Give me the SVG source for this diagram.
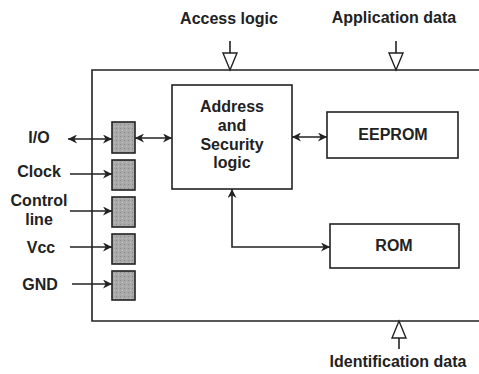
<svg xmlns="http://www.w3.org/2000/svg" width="479" height="374" viewBox="0 0 479 374">
<defs>
<marker id="ah" viewBox="0 0 10 10" refX="10" refY="5" markerWidth="10" markerHeight="9" markerUnits="userSpaceOnUse" orient="auto-start-reverse"><path d="M0,0 L10,5 L0,10 L3,5 Z" fill="#222"/></marker>
<pattern id="tex" width="4" height="4" patternUnits="userSpaceOnUse"><rect width="4" height="4" fill="#a9a9a9"/><rect x="0" y="0" width="1" height="1" fill="#8a8a8a"/><rect x="2" y="2" width="1" height="1" fill="#c4c4c4"/></pattern>
</defs>
<style>
text{font-family:"Liberation Sans",Arial,sans-serif;font-weight:bold;font-size:16px;fill:#222;text-anchor:middle}
.box{fill:#fff;stroke:#222;stroke-width:1.6}
.pin{fill:url(#tex);stroke:#222;stroke-width:1.6}
.ln{fill:none;stroke:#222;stroke-width:1.6}
.tri{fill:#fff;stroke:#222;stroke-width:1.4}
</style>
<rect width="479" height="374" fill="#fff"/>
<g id="chip"><path class="ln" d="M480,70 H92 V321 H480"/></g>
<g id="labels-top">
<text x="229" y="24">Access logic</text>
<text x="394" y="23">Application data</text>
<text x="398" y="367">Identification data</text>
</g>
<g id="address"><rect class="box" x="172" y="85" width="120" height="104"/>
<text x="232" y="112">Address</text><text x="232" y="131">and</text><text x="232" y="150">Security</text><text x="232" y="168">logic</text></g>
<g id="eeprom"><rect class="box" x="327" y="112" width="131" height="46"/><text x="393" y="140">EEPROM</text></g>
<g id="rom"><rect class="box" x="330" y="224" width="129" height="44"/><text x="394" y="251">ROM</text></g>
<g id="pins">
<rect class="pin" x="112" y="122" width="23" height="31"/>
<rect class="pin" x="112" y="160" width="23" height="30"/>
<rect class="pin" x="112" y="197" width="23" height="30"/>
<rect class="pin" x="112" y="234" width="23" height="30"/>
<rect class="pin" x="112" y="271" width="23" height="29"/>
</g>
<g id="pin-labels">
<text x="39" y="143">I/O</text>
<text x="39" y="177">Clock</text>
<text x="39" y="206">Control</text>
<text x="39" y="225">line</text>
<text x="41" y="253">Vcc</text>
<text x="40" y="290">GND</text>
</g>
<g id="connectors">
<line class="ln" x1="68" y1="139" x2="112" y2="139" marker-start="url(#ah)" marker-end="url(#ah)"/>
<line class="ln" x1="135" y1="138" x2="172" y2="138" marker-start="url(#ah)" marker-end="url(#ah)"/>
<line class="ln" x1="70" y1="174" x2="112" y2="174" marker-end="url(#ah)"/>
<line class="ln" x1="70" y1="211" x2="112" y2="211" marker-end="url(#ah)"/>
<line class="ln" x1="70" y1="247" x2="112" y2="247" marker-end="url(#ah)"/>
<line class="ln" x1="72" y1="284" x2="112" y2="284" marker-end="url(#ah)"/>
<line class="ln" x1="292" y1="137" x2="327" y2="137" marker-start="url(#ah)" marker-end="url(#ah)"/>
<path class="ln" d="M232,189 V247 H330" marker-start="url(#ah)" marker-end="url(#ah)"/>
<line class="ln" x1="230" y1="41" x2="230" y2="53"/>
<path class="tri" d="M223,53 H237 L230,70 Z"/>
<line class="ln" x1="396" y1="41" x2="396" y2="53"/>
<path class="tri" d="M389,53 H403 L396,70 Z"/>
<line class="ln" x1="399" y1="338" x2="399" y2="349"/>
<path class="tri" d="M392,338 H406 L399,321 Z"/>
</g>
</svg>
